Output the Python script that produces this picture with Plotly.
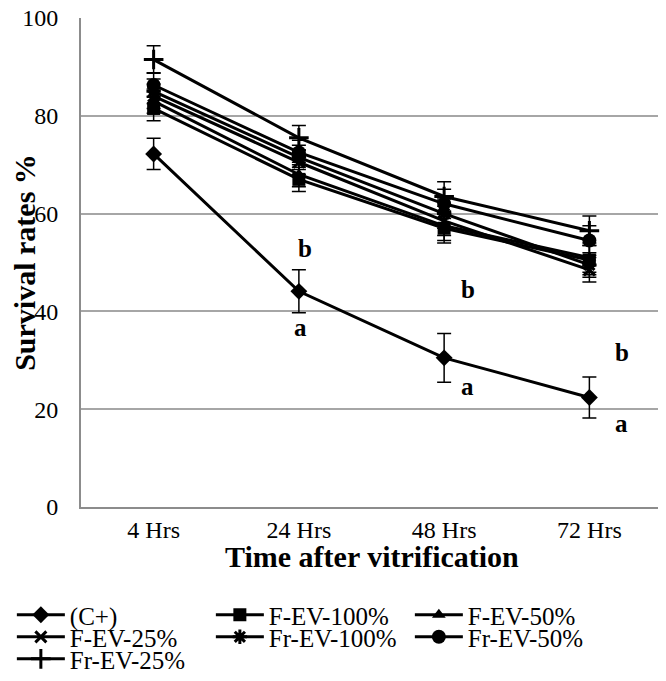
import plotly.graph_objects as go

# categories and series
times = ['4 Hrs', '24 Hrs', '48 Hrs', '72 Hrs']
names = ['(C+)', 'F-EV-100%', 'F-EV-50%', 'F-EV-25%', 'Fr-EV-100%', 'Fr-EV-50%', 'Fr-EV-25%']

c_pos = [72.2, 44.1, 30.5, 22.4]
f_ev_100 = [81.5, 67.0, 57.0, 50.5]
f_ev_50 = [83.0, 68.0, 57.5, 51.0]
f_ev_25 = [84.0, 70.5, 58.5, 48.5]
fr_ev_100 = [85.0, 71.5, 60.0, 49.5]
fr_ev_50 = [86.3, 72.5, 62.0, 54.5]
fr_ev_25 = [91.5, 75.5, 63.5, 56.5]

c_pos_err = [3.2, 4.4, 5.0, 4.2]
f_ev_100_err = [2.5, 2.5, 3.0, 3.0]
f_ev_50_err = [2.5, 2.5, 3.0, 3.0]
f_ev_25_err = [2.5, 2.5, 3.0, 2.5]
fr_ev_100_err = [2.5, 2.5, 3.0, 2.5]
fr_ev_50_err = [2.5, 2.5, 3.0, 3.0]
fr_ev_25_err = [2.8, 2.5, 3.0, 3.0]

# significance letters
letter_x = ['24 Hrs', '24 Hrs', '48 Hrs', '48 Hrs', '72 Hrs', '72 Hrs']
letter_y = [52.9, 36.8, 44.4, 24.6, 31.5, 17.0]
letters = ['b', 'a', 'b', 'a', 'b', 'a']
letter_shift = [6, 2, 24, 23, 33, 32]

series = [c_pos, f_ev_100, f_ev_50, f_ev_25, fr_ev_100, fr_ev_50, fr_ev_25]
errors = [c_pos_err, f_ev_100_err, f_ev_50_err, f_ev_25_err, fr_ev_100_err, fr_ev_50_err, fr_ev_25_err]
symbols = ['diamond', 'square', 'triangle-up', 'x-thin-open', 'asterisk-open', 'circle', 'cross-thin-open']
sizes = [13, 13, 12, 11, 12, 14, 14]
# three legend rows, like the Excel legend
legend_rows = ['legend', 'legend', 'legend', 'legend2', 'legend2', 'legend2', 'legend3']

FONT = 'Liberation Serif'

fig = go.Figure()
for name, ys, err, sym, sz, lg in zip(names, series, errors, symbols, sizes, legend_rows):
    fig.add_trace(go.Scatter(
        x=times, y=ys, name=name, mode='lines+markers', legend=lg,
        line=dict(color='black', width=3),
        marker=dict(symbol=sym, size=sz, color='black',
                    line=dict(color='black', width=3 if 'open' in sym else 0)),
        error_y=dict(type='data', array=err, color='black', thickness=1.5, width=7),
    ))

for lx, ly, t, sh in zip(letter_x, letter_y, letters, letter_shift):
    fig.add_annotation(x=lx, y=ly, text='<b>%s</b>' % t, showarrow=False,
                       xshift=sh, font=dict(family=FONT, size=25, color='black'))

# x axis title sits tight under the tick labels
fig.add_annotation(x=0.5, xref='paper', y=-0.102, yref='paper', yanchor='middle',
                   text='<b>Time after vitrification</b>', showarrow=False,
                   font=dict(family=FONT, size=30, color='black'))


def row_legend(y):
    return dict(orientation='h', x=-0.119, xanchor='left', xref='paper',
                y=y, yanchor='middle', yref='paper',
                entrywidth=136, entrywidthmode='pixels', itemwidth=48,
                bgcolor='rgba(0,0,0,0)', tracegroupgap=0,
                font=dict(family=FONT, size=25, color='black'))


# page body adds 8px, so the figure is 8px smaller than the window
fig.update_layout(
    width=658, height=673,
    margin=dict(l=73, r=4, t=10, b=174, autoexpand=False),
    plot_bgcolor='white', paper_bgcolor='white',
    font=dict(family=FONT, size=24, color='black'),
    showlegend=True,
    legend=row_legend(-0.221),
    legend2=row_legend(-0.266),
    legend3=row_legend(-0.311),
)
fig.update_xaxes(type='category', range=[-0.5, 3.5],
                 showline=True, linecolor='#8c8c8c', linewidth=2,
                 ticks='', tickfont=dict(size=24, family=FONT))
fig.update_yaxes(range=[0, 100], dtick=20, showgrid=True, gridcolor='#a6a6a6',
                 gridwidth=2, showline=True, linecolor='#8c8c8c', linewidth=2,
                 zeroline=False, ticks='', tickfont=dict(size=24, family=FONT),
                 ticklabelstandoff=16, ticklabeloverflow='allow',
                 title=dict(text='<b>Survival rates %</b>',
                            font=dict(size=30, family=FONT), standoff=4))

fig.write_html('out.html')
